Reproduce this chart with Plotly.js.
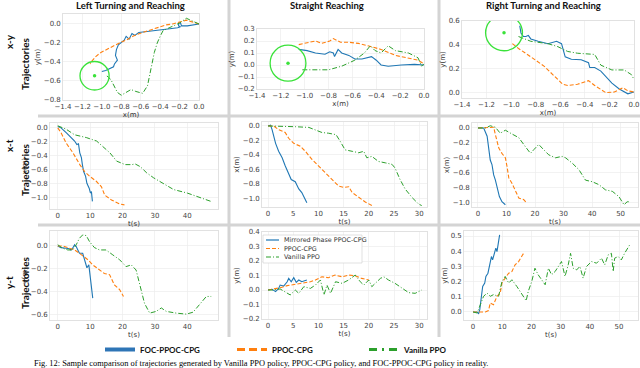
<!DOCTYPE html>
<html>
<head>
<meta charset="utf-8">
<script src="https://cdn.plot.ly/plotly-3.0.1.min.js"></script>
<style>
  body { margin: 0; background: #fff; }
  #chart { width: 640px; height: 368px; }
</style>
</head>
<body>
<div id="chart"></div>
<script>
// ---- data ----
// x-y, left turning
const leftXYFocX = [0, -0.05, -0.12, -0.18, -0.19, -0.21, -0.21, -0.19, -0.22, -0.3, -0.38, -0.45, -0.55, -0.62, -0.66, -0.69, -0.72, -0.75, -0.77, -0.8, -0.83, -0.85, -0.86, -0.84, -0.87, -0.88, -0.92, -0.96, -1.0];
const leftXYFocY = [0, -0.01, -0.02, -0.02, 0.01, 0.01, -0.02, -0.03, -0.04, -0.05, -0.06, -0.07, -0.08, -0.09, -0.12, -0.1, -0.16, -0.13, -0.17, -0.2, -0.22, -0.27, -0.33, -0.38, -0.42, -0.45, -0.47, -0.49, -0.5];
const leftXYPpocX = [0, -0.06, -0.13, -0.2, -0.27, -0.34, -0.4, -0.47, -0.54, -0.61, -0.68, -0.75, -0.82, -0.89, -0.95, -1.01, -1.06, -1.09, -1.11, -1.12];
const leftXYPpocY = [0, 0.02, 0.04, 0.02, 0.0, -0.01, -0.03, -0.05, -0.08, -0.1, -0.13, -0.17, -0.2, -0.24, -0.27, -0.3, -0.34, -0.37, -0.4, -0.42];
const leftXYVanX = [0, -0.05, -0.1, -0.13, -0.2, -0.28, -0.37, -0.4, -0.43, -0.46, -0.48, -0.5, -0.53, -0.58, -0.62, -0.65, -0.7, -0.75, -0.8, -0.84, -0.87, -0.9, -0.93, -0.96];
const leftXYVanY = [0, 0.02, 0.04, 0.06, 0.01, -0.03, -0.07, -0.13, -0.2, -0.3, -0.4, -0.52, -0.65, -0.73, -0.72, -0.71, -0.69, -0.72, -0.75, -0.72, -0.66, -0.6, -0.56, -0.54];

// x-y, straight
const straightXYFocX = [-1.05, -0.98, -0.91, -0.83, -0.79, -0.76, -0.75, -0.72, -0.69, -0.63, -0.58, -0.52, -0.44, -0.4, -0.36, -0.3, -0.19, -0.08, 0];
const straightXYFocY = [0.13, 0.12, 0.1, 0.09, 0.11, 0.1, 0.07, 0.13, 0.1, 0.08, 0.05, 0.05, 0.07, 0.04, 0.0, -0.01, 0.0, 0.005, 0];
const straightXYPpocX = [-1.05, -0.97, -0.91, -0.86, -0.79, -0.76, -0.7, -0.63, -0.55, -0.47, -0.36, -0.24, -0.13, -0.05, 0];
const straightXYPpocY = [0.17, 0.19, 0.2, 0.18, 0.2, 0.22, 0.19, 0.19, 0.18, 0.16, 0.13, 0.08, 0.06, 0.04, 0.01];
const straightXYVanX = [-1.02, -0.91, -0.8, -0.69, -0.58, -0.5, -0.45, -0.41, -0.36, -0.3, -0.24, -0.13, -0.05, -0.02, 0];
const straightXYVanY = [-0.04, -0.04, -0.04, -0.01, 0.04, 0.1, 0.16, 0.12, 0.1, 0.16, 0.12, 0.1, 0.06, -0.01, 0.01];

// x-y, right turning
const rightXYFocX = [-0.93, -0.92, -0.9, -0.88, -0.86, -0.84, -0.78, -0.7, -0.63, -0.59, -0.56, -0.51, -0.43, -0.37, -0.36, -0.32, -0.27, -0.18, -0.12, -0.05, 0];
const rightXYFocY = [0.56, 0.5, 0.47, 0.47, 0.48, 0.45, 0.43, 0.41, 0.43, 0.41, 0.3, 0.28, 0.275, 0.25, 0.21, 0.21, 0.18, 0.08, 0.03, -0.01, 0.005];
const rightXYPpocX = [-0.99, -0.94, -0.84, -0.73, -0.62, -0.58, -0.54, -0.46, -0.37, -0.32, -0.23, -0.16, -0.09, -0.05, 0];
const rightXYPpocY = [0.41, 0.37, 0.3, 0.22, 0.11, 0.07, 0.06, 0.07, 0.1, 0.06, 0.0, 0.005, 0.04, 0.015, 0.005];
const rightXYVanX = [-0.94, -0.84, -0.7, -0.62, -0.54, -0.46, -0.32, -0.27, -0.18, -0.08, -0.02, 0];
const rightXYVanY = [0.47, 0.43, 0.41, 0.385, 0.345, 0.33, 0.32, 0.23, 0.19, 0.19, 0.15, 0.11];

// x-t
const leftXTFocT = [0, 1, 2.6, 4.2, 5.2, 5.9, 6.4, 6.8, 7.3, 7.6, 8, 8.6, 9, 9.7, 10.1, 10.4, 10.7];
const leftXTFocV = [0.02, 0, -0.07, -0.14, -0.19, -0.24, -0.23, -0.36, -0.43, -0.53, -0.63, -0.7, -0.8, -0.87, -0.94, -0.92, -1.06];
const leftXTPpocT = [0, 1, 2.6, 4.7, 6.8, 8.3, 9.9, 11.9, 13.5, 14.5, 16.6, 19.2, 20.6];
const leftXTPpocV = [0, -0.07, -0.22, -0.36, -0.53, -0.63, -0.7, -0.77, -0.85, -0.97, -1.04, -1.1, -1.11];
const leftXTVanT = [0, 2.6, 5.2, 8.8, 12, 14, 16.1, 18.2, 20.8, 22.9, 23.9, 25.5, 27.5, 29.6, 32.7, 35.8, 40, 44.2, 47.3];
const leftXTVanV = [0.03, -0.02, -0.1, -0.14, -0.19, -0.27, -0.36, -0.48, -0.53, -0.53, -0.52, -0.56, -0.65, -0.72, -0.8, -0.89, -0.94, -1.01, -1.06];

const straightXTFocT = [0, 0.5, 0.8, 1.5, 2.1, 2.8, 3.4, 4.1, 4.6, 5.4, 6.1, 6.7, 7.7];
const straightXTFocV = [0, 0.01, -0.05, -0.24, -0.35, -0.44, -0.55, -0.67, -0.74, -0.77, -0.87, -0.92, -1.06];
const straightXTPpocT = [0, 1.1, 2.1, 3.4, 4.1, 5.1, 6.4, 7.4, 8.7, 10, 11.4, 12.7, 14, 15, 16, 16.7, 18, 19.3, 20.6];
const straightXTPpocV = [0, 0, -0.05, -0.09, -0.17, -0.24, -0.28, -0.35, -0.46, -0.55, -0.65, -0.74, -0.83, -0.85, -0.84, -0.92, -0.99, -1.05, -1.1];
const straightXTVanT = [0, 2.8, 5.4, 8.1, 9.4, 10.7, 12, 13.5, 14.3, 15.3, 16.7, 18, 19, 19.6, 20.6, 21.9, 23.3, 24.6, 25.2, 26.2, 27.2, 28.6, 29.9, 30.5];
const straightXTVanV = [0, 0, -0.01, -0.02, -0.05, -0.09, -0.1, -0.12, -0.21, -0.33, -0.35, -0.37, -0.35, -0.44, -0.42, -0.49, -0.51, -0.53, -0.58, -0.74, -0.87, -0.99, -1.08, -1.1];

const rightXTFocT = [0, 2, 3.2, 3.7, 4.3, 4.9, 5.5, 6.1, 6.7, 7.5, 8.4, 9.6];
const rightXTFocV = [0, 0, -0.11, -0.25, -0.43, -0.49, -0.63, -0.7, -0.81, -0.92, -0.99, -1.03];
const rightXTPpocT = [0, 3.7, 5.5, 6.1, 7.3, 8.4, 9.6, 10.2, 10.8, 11.9, 13.1, 14.3, 16, 17.2];
const rightXTPpocV = [0, 0, 0.01, -0.09, -0.27, -0.34, -0.4, -0.52, -0.67, -0.74, -0.83, -0.94, -0.96, -1.01];
const rightXTVanT = [0, 2.6, 4.3, 6.1, 7.8, 9.6, 11.9, 14.3, 16.6, 18.4, 19.6, 21.3, 22.5, 24.8, 27.2, 29.5, 30.7, 33, 35.4, 37.7, 40, 42.4, 44.7, 47.1, 49.4, 51.2, 52.3, 53.5];
const rightXTVanV = [0, 0, 0.03, 0.01, -0.07, -0.03, -0.08, -0.13, -0.25, -0.34, -0.29, -0.22, -0.27, -0.36, -0.4, -0.38, -0.4, -0.47, -0.56, -0.7, -0.72, -0.76, -0.83, -0.85, -0.92, -1.03, -0.99, -0.99];

// y-t
const leftYTFocT = [0, 1, 2.6, 3.6, 4.1, 4.6, 5.2, 5.7, 6.2, 6.7, 7.7, 8.6, 9, 9.6, 10, 10.8];
const leftYTFocV = [0, -0.015, -0.02, -0.025, -0.035, -0.02, 0.01, -0.006, -0.035, -0.064, -0.064, -0.15, -0.19, -0.165, -0.28, -0.455];
const leftYTPpocT = [0, 1.5, 3.6, 5.2, 6.7, 8.2, 9.3, 10.8, 12.9, 14.4, 16, 17.5, 19.1, 20.3];
const leftYTPpocV = [0, 0, -0.02, -0.035, -0.064, -0.093, -0.12, -0.165, -0.21, -0.24, -0.25, -0.34, -0.38, -0.44];
const leftYTVanT = [0, 1.5, 3.1, 4.6, 5.7, 6.7, 7.7, 8.8, 9.8, 11.3, 12.9, 14.9, 17, 19.1, 21.1, 22.7, 24.2, 25.3, 26.8, 28.4, 30.4, 32, 33.5, 36.6, 39.7, 41.8, 43.8, 45.9, 47.4];
const leftYTVanV = [0.01, -0.02, -0.035, -0.035, 0.01, 0.067, 0.096, 0.09, 0.038, -0.014, -0.035, -0.035, -0.078, -0.12, -0.18, -0.165, -0.21, -0.34, -0.5, -0.585, -0.57, -0.54, -0.57, -0.585, -0.594, -0.577, -0.513, -0.44, -0.44];

const straightYTFocT = [0, 0.8, 1.5, 2.1, 2.4, 3.1, 3.8, 4.1, 4.6, 5.1, 5.6, 6.1, 6.7, 7.7];
const straightYTFocV = [0, 0.005, -0.011, 0.011, 0.034, 0.027, 0.057, 0.08, 0.057, 0.085, 0.053, 0.069, 0.057, 0.069];
const straightYTPpocT = [0, 1.1, 2.4, 3.8, 5.4, 6.7, 8.4, 9.4, 10.7, 12, 13.3, 14.7, 16, 17.3, 18.6, 20];
const straightYTPpocV = [0, 0.007, 0.016, 0.03, 0.039, 0.046, 0.057, 0.069, 0.091, 0.085, 0.103, 0.091, 0.103, 0.098, 0.08, 0.069];
const straightYTVanT = [0, 1.1, 2.4, 3.4, 4.4, 5.4, 6.1, 7.1, 8.4, 9.4, 10.4, 11.1, 11.7, 12.4, 13.4, 14.7, 16, 17.3, 18.3, 19, 20, 20.6, 21.3, 22.3, 23, 23.9, 25.2, 26.6, 27.9, 29.2, 30.5];
const straightYTVanV = [0, 0, 0.007, -0.011, -0.034, 0, -0.023, 0.023, 0.011, 0.034, 0.069, -0.034, 0.034, -0.023, 0.057, 0.046, 0.069, 0.103, 0.057, 0.034, 0.069, 0.023, 0.046, 0.08, 0.091, 0.069, 0.046, 0.011, -0.018, -0.023, 0];

const rightYTFocT = [0, 1.4, 1.9, 2.3, 2.8, 3.3, 4, 4.4, 5.1, 5.6, 6.3, 6.7, 7.4, 7.8, 8.2, 8.75, 9.1];
const rightYTFocV = [0, 0, -0.013, 0.015, 0.092, 0.168, 0.19, 0.234, 0.255, 0.31, 0.365, 0.343, 0.386, 0.42, 0.397, 0.452, 0.507];
const rightYTPpocT = [0, 2.5, 4.2, 5.3, 5.9, 7, 8.2, 9.3, 9.9, 11, 12.2, 13.3, 14.4, 15.6, 16.7, 17.3];
const rightYTPpocV = [0, 0, 0, 0.009, 0.059, 0.048, 0.103, 0.124, 0.19, 0.223, 0.255, 0.266, 0.31, 0.332, 0.365, 0.386];
const rightYTVanT = [0, 1.4, 2.5, 3.6, 4.8, 5.9, 7, 8.75, 9.9, 11, 12.2, 13.3, 15, 16.7, 18.2, 18.9, 20.1, 21.2, 22.3, 23.5, 24.7, 25.8, 26.9, 28.1, 29.2, 30.3, 31.5, 32.6, 33.4, 34.3, 35.5, 36.6, 37.7, 38.9, 40.6, 42.3, 44, 45.1, 46.3, 47.4, 48, 48.5, 49.7, 50.8, 51.9, 53.6];
const rightYTVanV = [0, -0.007, 0.048, 0.103, 0.124, 0.103, 0.114, 0.103, 0.2, 0.234, 0.19, 0.212, 0.168, 0.114, 0.074, 0.135, 0.2, 0.288, 0.245, 0.212, 0.179, 0.288, 0.245, 0.266, 0.3, 0.332, 0.234, 0.31, 0.386, 0.288, 0.277, 0.3, 0.223, 0.3, 0.332, 0.321, 0.354, 0.31, 0.376, 0.386, 0.266, 0.354, 0.365, 0.343, 0.386, 0.44];

// goal regions in the x-y plots: centre x, centre y, radius
const targetX = [-1.075, -1.14, -1.058];
const targetY = [-0.545, 0.015, 0.501];
const targetR = [0.15, 0.15, 0.15];

const seriesNames = ['FOC-PPOC-CPG', 'PPOC-CPG', 'Vanilla PPO'];
const insetNames = ['Mirrored Phase PPOC-CPG', 'PPOC-CPG', 'Vanilla PPO'];
const colTitles = ['Left Turning and Reaching', 'Straight Reaching', 'Right Turning and Reaching'];
const rowNames = ['x-y', 'x-t', 'y-t'];

const panelData = [
  [leftXYFocX, leftXYFocY, leftXYPpocX, leftXYPpocY, leftXYVanX, leftXYVanY],
  [straightXYFocX, straightXYFocY, straightXYPpocX, straightXYPpocY, straightXYVanX, straightXYVanY],
  [rightXYFocX, rightXYFocY, rightXYPpocX, rightXYPpocY, rightXYVanX, rightXYVanY],
  [leftXTFocT, leftXTFocV, leftXTPpocT, leftXTPpocV, leftXTVanT, leftXTVanV],
  [straightXTFocT, straightXTFocV, straightXTPpocT, straightXTPpocV, straightXTVanT, straightXTVanV],
  [rightXTFocT, rightXTFocV, rightXTPpocT, rightXTPpocV, rightXTVanT, rightXTVanV],
  [leftYTFocT, leftYTFocV, leftYTPpocT, leftYTPpocV, leftYTVanT, leftYTVanV],
  [straightYTFocT, straightYTFocV, straightYTPpocT, straightYTPpocV, straightYTVanT, straightYTVanV],
  [rightYTFocT, rightYTFocV, rightYTPpocT, rightYTPpocV, rightYTVanT, rightYTVanV]
];

// ---- layout ----
const W = 640, H = 368;
const fx = p => p / W;
const fy = p => 1 - p / H;

// plot boxes in pixels [left, right, top, bottom]
const panels = [
  {box: [63, 199, 14, 100],  xr: [-1.4, 0.0],   yr: [-0.8, 0.105],  dx: 0.2, dy: 0.2, xt: 'x(m)', yt: 'y(m)', xf: '.1f'},
  {box: [257, 424, 29, 89],  xr: [-1.4, 0.0],   yr: [-0.2, 0.3],    dx: 0.2, dy: 0.1, xt: 'x(m)', yt: 'y(m)', xf: '.1f'},
  {box: [462, 634, 21, 98],  xr: [-1.4, 0.0],   yr: [-0.045, 0.6],  dx: 0.2, dy: 0.2, xt: 'x(m)', yt: 'y(m)', xf: '.1f'},
  {box: [50, 218, 123, 209], xr: [-2.4, 49.5],  yr: [-1.17, 0.07],  dx: 10,  dy: 0.2, xt: 't(s)', yt: 'x(m)', xf: 'd'},
  {box: [262, 427, 122, 207], xr: [-1.2, 31.55], yr: [-1.12, 0.055], dx: 5,  dy: 0.2, xt: 't(s)', yt: 'x(m)', xf: 'd'},
  {box: [472, 638, 123, 207], xr: [-2.1, 56.1], yr: [-1.06, 0.067], dx: 10,  dy: 0.2, xt: 't(s)', yt: 'x(m)', xf: 'd'},
  {box: [50, 218, 231, 320], xr: [-2.4, 49.5],  yr: [-0.645, 0.13], dx: 10,  dy: 0.2, xt: 't(s)', yt: 'y(m)', xf: 'd'},
  {box: [262, 427, 232, 319], xr: [-1.2, 31.55], yr: [-0.2, 0.4],   dx: 5,   dy: 0.1, xt: 't(s)', yt: 'y(m)', xf: 'd'},
  {box: [464, 638, 231, 320], xr: [-3.1, 56.5], yr: [-0.053, 0.533], dx: 10, dy: 0.1, xt: 't(s)', yt: 'y(m)', xf: 'd'}
];

const styles = [
  {color: '#1f77b4', dash: 'solid', width: 1.1},
  {color: '#ff7f0e', dash: '4px,2px', width: 1.1},
  {color: '#2ca02c', dash: '5px,2px,1px,2px', width: 1.0}
];
const legendStyles = [
  {color: '#2e75b6', dash: 'solid', width: 4},
  {color: '#ff7f0e', dash: '8px,4px', width: 3},
  {color: '#2ca02c', dash: '8px,5px,2px,5px', width: 3}
];

const tickFont = {family: 'DejaVu Sans', size: 7, color: '#444'};
const titleFont = {family: 'DejaVu Sans', size: 7, color: '#333'};

const traces = [];
const layout = {
  width: W, height: H,
  margin: {l: 0, r: 0, t: 0, b: 0},
  paper_bgcolor: '#fff', plot_bgcolor: '#fff',
  showlegend: true,
  legend: {
    orientation: 'h', x: fx(100), y: fy(335), xanchor: 'left', yanchor: 'top',
    font: {family: 'Lato', size: 8, color: '#111', weight: 'bold'},
    entrywidth: 87, entrywidthmode: 'pixels', bgcolor: 'rgba(0,0,0,0)'
  },
  shapes: [], annotations: []
};

panels.forEach((p, i) => {
  const n = i + 1;
  const sfx = n === 1 ? '' : String(n);
  const axBase = {
    showgrid: true, gridcolor: '#ececec', gridwidth: 0.7,
    zeroline: false, showline: true, mirror: true, linecolor: '#d9d9d9', linewidth: 0.8,
    ticks: '', tickfont: tickFont, automargin: false
  };
  layout['xaxis' + sfx] = Object.assign({}, axBase, {
    domain: [fx(p.box[0]), fx(p.box[1])], range: p.xr, tick0: 0, dtick: p.dx,
    tickformat: p.xf, tickangle: 0, anchor: 'y' + sfx,
    title: {text: p.xt, font: titleFont, standoff: 1}
  });
  layout['yaxis' + sfx] = Object.assign({}, axBase, {
    domain: [fy(p.box[3]), fy(p.box[2])], range: p.yr, tick0: 0, dtick: p.dy,
    tickformat: '.1f', anchor: 'x' + sfx,
    title: {text: p.yt, font: titleFont, standoff: 2}
  });

  const d = panelData[i];
  for (let s = 0; s < 3; s++) {
    traces.push({
      type: 'scatter', mode: 'lines',
      x: d[2 * s], y: d[2 * s + 1],
      xaxis: 'x' + sfx, yaxis: 'y' + sfx,
      line: {color: styles[s].color, dash: styles[s].dash, width: styles[s].width},
      showlegend: false, hoverinfo: 'skip'
    });
  }

  // goal circle for the x-y row
  if (i < 3) {
    layout.shapes.push({
      type: 'circle', xref: 'x' + sfx, yref: 'y' + sfx,
      x0: targetX[i] - targetR[i], x1: targetX[i] + targetR[i],
      y0: targetY[i] - targetR[i], y1: targetY[i] + targetR[i],
      line: {color: '#3ae23a', width: 1.3}
    });
    traces.push({
      type: 'scatter', mode: 'markers', x: [targetX[i]], y: [targetY[i]],
      xaxis: 'x' + sfx, yaxis: 'y' + sfx,
      marker: {color: '#3ae23a', size: 3.5}, showlegend: false, hoverinfo: 'skip'
    });
  }
});

// bottom legend entries
for (let s = 0; s < 3; s++) {
  traces.push({
    type: 'scatter', mode: 'lines', x: [null], y: [null], name: seriesNames[s],
    line: legendStyles[s], showlegend: true, hoverinfo: 'skip'
  });
}

// panel separators
const sep = {type: 'line', xref: 'paper', yref: 'paper', line: {color: '#d4d4d4', width: 3}, layer: 'below'};
[229, 439].forEach(x => layout.shapes.push(Object.assign({}, sep, {x0: fx(x), x1: fx(x), y0: fy(0), y1: fy(337)})));
[116, 225].forEach(y => layout.shapes.push(Object.assign({}, sep, {x0: fx(38), x1: 1, y0: fy(y), y1: fy(y)})));

// inset legend inside the straight y-t panel
layout.shapes.push({type: 'rect', xref: 'paper', yref: 'paper',
  x0: fx(263), x1: fx(362), y0: fy(263), y1: fy(235),
  fillcolor: '#fff', line: {color: '#cfcfcf', width: 0.6}});
const insetRows = [240, 248.5, 257];
insetNames.forEach((name, s) => {
  layout.shapes.push({type: 'line', xref: 'paper', yref: 'paper',
    x0: fx(266), x1: fx(279), y0: fy(insetRows[s]), y1: fy(insetRows[s]),
    line: {color: styles[s].color, dash: styles[s].dash, width: 1.2}});
  layout.annotations.push({xref: 'paper', yref: 'paper', x: fx(282), y: fy(insetRows[s]),
    xanchor: 'left', yanchor: 'middle', showarrow: false, text: name,
    font: {family: 'DejaVu Sans', size: 6.4, color: '#333'}});
});

// column titles
const colCenters = [130, 327, 543];
colTitles.forEach((t, c) => layout.annotations.push({
  xref: 'paper', yref: 'paper', x: fx(colCenters[c]), y: fy(6), xanchor: 'center', yanchor: 'middle',
  showarrow: false, text: t, font: {family: 'Lato', size: 9.5, color: '#111', weight: 'bold'}
}));

// row labels
const rowTopY = [42, 146, 283];
const rowMidY = [64, 170, 283];
rowNames.forEach((r, k) => {
  layout.annotations.push({xref: 'paper', yref: 'paper', x: fx(9), y: fy(rowTopY[k]),
    xanchor: 'center', yanchor: 'middle', showarrow: false, textangle: -90, text: r,
    font: {family: 'Lato', size: 10, color: '#111', weight: 'bold'}});
  layout.annotations.push({xref: 'paper', yref: 'paper', x: fx(25), y: fy(rowMidY[k]),
    xanchor: 'center', yanchor: 'middle', showarrow: false, textangle: -90, text: 'Trajectories',
    font: {family: 'Lato', size: 10, color: '#111', weight: 'bold'}});
});

// caption
layout.annotations.push({xref: 'paper', yref: 'paper', x: fx(32), y: fy(357), xanchor: 'left', yanchor: 'top',
  showarrow: false,
  text: 'Fig. 12: Sample comparison of trajectories generated by Vanilla PPO policy, PPOC-CPG policy, and FOC-PPOC-CPG policy in reality.',
  font: {family: 'Liberation Serif', size: 8.4, color: '#000'}});

Plotly.newPlot('chart', traces, layout, {staticPlot: true, displayModeBar: false});
</script>
</body>
</html>
